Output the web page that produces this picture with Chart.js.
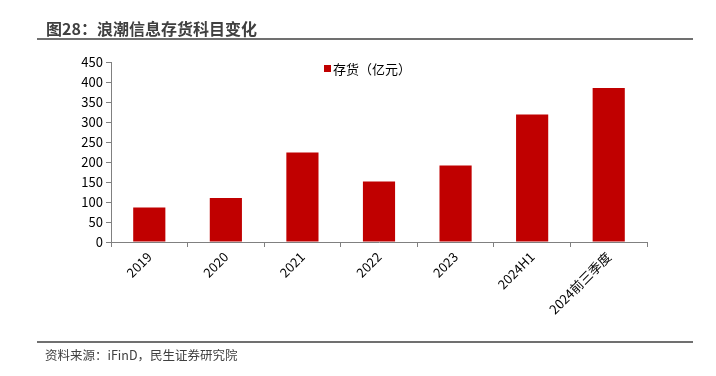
<!DOCTYPE html>
<html><head><meta charset="utf-8">
<script src="https://cdn.jsdelivr.net/npm/chart.js@4"></script>
<style>
html,body{margin:0;padding:0;background:#fff;}
body{width:716px;height:376px;position:relative;overflow:hidden;font-family:"Noto Sans CJK SC","Noto Sans",sans-serif;}
#title{position:absolute;left:46px;top:18px;font-size:16px;line-height:20px;font-weight:bold;color:#404040;}
#l1{position:absolute;left:37px;top:38px;width:656px;height:2px;background:#707070;}
#l2{position:absolute;left:37px;top:341px;width:656px;height:2px;background:#707070;}
#src{position:absolute;left:45px;top:346px;font-size:12.5px;line-height:18px;color:#404040;}
#wrap{position:absolute;left:0;top:0;width:716px;height:376px;}
</style></head>
<body>
<div id="wrap"><canvas id="c" width="716" height="376"></canvas></div>
<div id="title">图28：浪潮信息存货科目变化</div>
<div id="l1"></div>
<div id="l2"></div>
<div id="src">资料来源：iFinD，民生证券研究院</div>
<script>
const categories = ["2019","2020","2021","2022","2023","2024H1","2024前三季度"];
const inventory = [86, 110, 224, 151, 191, 319, 385];
const seriesName = "存货（亿元）";
const yTicks = [0,50,100,150,200,250,300,350,400,450];

const fam = '"Noto Sans CJK SC","Noto Sans",sans-serif';
const font = {family:fam, size:13};

const innerLegend = {
  id:'innerLegend',
  afterDraw(chart){
    const {ctx, chartArea} = chart;
    const ds = chart.data.datasets[0];
    const cx = (chartArea.left + chartArea.right)/2;
    const x = cx - 55, y = chartArea.top + 3;
    ctx.save();
    ctx.fillStyle = ds.backgroundColor;
    ctx.fillRect(x, y, 7, 7);
    ctx.fillStyle = '#000';
    ctx.font = '13px ' + fam;
    ctx.textBaseline = 'middle';
    ctx.textAlign = 'left';
    ctx.fillText(ds.label, x + 9, y + 4);
    ctx.restore();
  }
};

new Chart(document.getElementById('c'), {
  type:'bar',
  data:{labels:categories, datasets:[{label:seriesName, data:inventory, backgroundColor:'#C00000', borderWidth:0, categoryPercentage:1, barPercentage:0.42}]},
  options:{
    responsive:false, animation:false,
    layout:{padding:{left:71, right:69, top:62, bottom:34}},
    plugins:{
      legend:{display:false},
      tooltip:{enabled:false}
    },
    scales:{
      x:{
        offset:true,
        grid:{display:true, drawOnChartArea:false, drawTicks:true, tickLength:5, offset:true, color:'#808080'},
        border:{color:'#808080', width:1},
        ticks:{color:'#000', font:font, maxRotation:45, minRotation:45, padding:2, autoSkip:false},
        afterFit(s){ s.height = 100; }
      },
      y:{
        min:0, max:450,
        afterBuildTicks(s){ s.ticks = yTicks.map(v=>({value:v})); },
        grid:{display:true, drawOnChartArea:false, drawTicks:true, tickLength:5, color:'#808080'},
        border:{color:'#808080', width:1},
        ticks:{color:'#000', font:font, padding:3},
        afterFit(s){ s.width = 40; }
      }
    }
  },
  plugins:[innerLegend]
});
</script>
</body></html>
